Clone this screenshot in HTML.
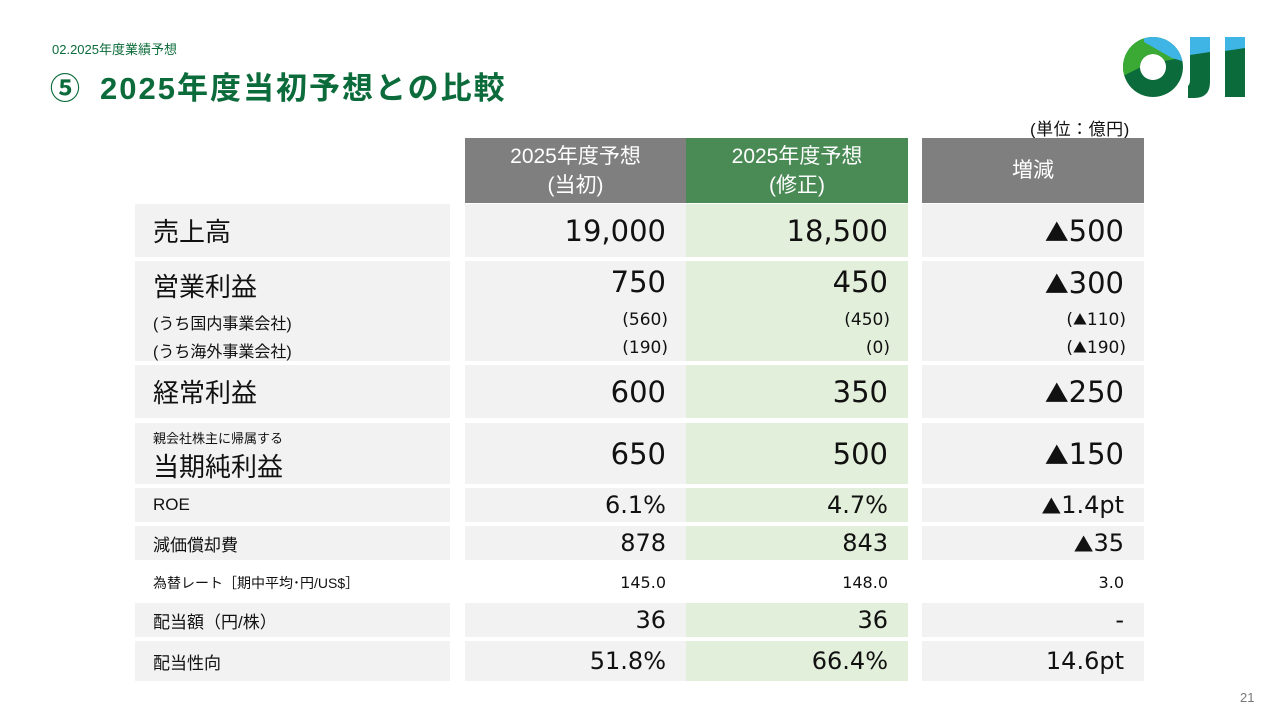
<!DOCTYPE html>
<html><head><meta charset="utf-8"><style>
body{margin:0;width:1280px;height:720px;background:#fff;position:relative;overflow:hidden;font-family:"Liberation Sans","Noto Sans CJK JP",sans-serif;color:#111}
.a{position:absolute;box-sizing:border-box}
.bg{background:#f2f2f2}.gr{background:#e2efda}
.n{display:flex;align-items:center;justify-content:flex-end;padding-right:20px;font-family:"DejaVu Sans","Noto Sans CJK JP",sans-serif}
.l{display:flex;align-items:center;padding-left:18px}
.h{display:flex;align-items:center;justify-content:center;text-align:center;color:#fff;font-size:21px;line-height:29px}
.big{font-size:29px}.mid{font-size:24px}.sm{font-size:17px}
.t{font-family:"Noto Sans CJK JP",sans-serif;font-size:0.82em}
</style></head><body>
<div class="a" style="left:52px;top:39px;font-size:13px;color:#0b6b3a">02.2025年度業績予想</div>
<div class="a" style="left:50px;top:64px;font-size:30px;font-weight:bold;color:#0b6b3a">⑤</div>
<div class="a" style="left:100px;top:63px;font-size:31px;font-weight:bold;color:#0b6b3a;letter-spacing:2px">2025年度当初予想との比較</div>
<svg class="a" style="left:1122px;top:34px" width="130" height="68" viewBox="0 0 130 68">
<defs><clipPath id="ring"><path d="M31 3a30 30 0 1 0 0.01 0zM31 20a13 13 0 1 1 -0.01 0z" fill-rule="evenodd"/></clipPath></defs>
<g clip-path="url(#ring)"><rect x="-5" y="-5" width="75" height="80" fill="#0b6b3a"/><path d="M-5 45 L25 30 L70 22 L70 -5 L-5 -5z" fill="#3aaa35"/><path d="M22 -5 L70 -5 L70 30 L50 24 L22 8z" fill="#3fb5e6"/></g>
<rect x="68" y="3" width="20" height="20" fill="#3fb5e6"/><path d="M68 21 L88 18 L88 48 Q88 64 72 64 L66 64 L66 52 Q68 50 68 46z" fill="#0b6b3a"/>
<rect x="103" y="3" width="20" height="14" fill="#3fb5e6"/><path d="M103 17 L123 14 L123 63 L103 63z" fill="#0b6b3a"/>
</svg>
<div class="a" style="left:1030px;top:115px;font-size:17px;letter-spacing:0.5px">(単位：億円)</div>

<div class="a h" style="left:465px;top:138px;width:221px;height:65px;background:#7f7f7f">2025年度予想<br>(当初)</div>
<div class="a h" style="left:686px;top:138px;width:222px;height:65px;background:#4a8a55">2025年度予想<br>(修正)</div>
<div class="a h" style="left:922px;top:138px;width:222px;height:65px;background:#7f7f7f">増減</div>

<div class="a bg l big" style="left:135px;top:204px;width:315px;height:53px;font-size:26px">売上高</div>
<div class="a bg n big" style="left:465px;top:204px;width:221px;height:53px">19,000</div>
<div class="a gr n big" style="left:686px;top:204px;width:222px;height:53px">18,500</div>
<div class="a bg n big" style="left:922px;top:204px;width:222px;height:53px"><span class="t">▲</span>500</div>

<div class="a bg" style="left:135px;top:261px;width:315px;height:100px">
<div class="a" style="left:18px;top:6px;font-size:26px">営業利益</div>
<div class="a" style="left:18px;top:49px;font-size:16px">(うち国内事業会社)</div>
<div class="a" style="left:18px;top:77px;font-size:16px">(うち海外事業会社)</div></div>
<div class="a bg" style="left:465px;top:261px;width:221px;height:100px;font-family:'DejaVu Sans',sans-serif">
<div class="a" style="right:20px;top:4px;font-size:29px">750</div>
<div class="a" style="right:18px;top:49px;font-size:17px">(560)</div>
<div class="a" style="right:18px;top:77px;font-size:17px">(190)</div></div>
<div class="a gr" style="left:686px;top:261px;width:222px;height:100px;font-family:'DejaVu Sans',sans-serif">
<div class="a" style="right:20px;top:4px;font-size:29px">450</div>
<div class="a" style="right:18px;top:49px;font-size:17px">(450)</div>
<div class="a" style="right:18px;top:77px;font-size:17px">(0)</div></div>
<div class="a bg" style="left:922px;top:261px;width:222px;height:100px;font-family:'DejaVu Sans',sans-serif">
<div class="a" style="right:20px;top:4px;font-size:29px"><span class="t">▲</span>300</div>
<div class="a" style="right:18px;top:49px;font-size:17px">(<span class="t">▲</span>110)</div>
<div class="a" style="right:18px;top:77px;font-size:17px">(<span class="t">▲</span>190)</div></div>

<div class="a bg l" style="left:135px;top:365px;width:315px;height:53px;font-size:26px">経常利益</div>
<div class="a bg n big" style="left:465px;top:365px;width:221px;height:53px">600</div>
<div class="a gr n big" style="left:686px;top:365px;width:222px;height:53px">350</div>
<div class="a bg n big" style="left:922px;top:365px;width:222px;height:53px"><span class="t">▲</span>250</div>

<div class="a bg" style="left:135px;top:423px;width:315px;height:61px">
<div class="a" style="left:18px;top:5px;font-size:13px">親会社株主に帰属する</div>
<div class="a" style="left:18px;top:24px;font-size:26px">当期純利益</div></div>
<div class="a bg n big" style="left:465px;top:423px;width:221px;height:61px">650</div>
<div class="a gr n big" style="left:686px;top:423px;width:222px;height:61px">500</div>
<div class="a bg n big" style="left:922px;top:423px;width:222px;height:61px"><span class="t">▲</span>150</div>

<div class="a bg l" style="left:135px;top:488px;width:315px;height:34px;font-size:17px">ROE</div>
<div class="a bg n mid" style="left:465px;top:488px;width:221px;height:34px">6.1%</div>
<div class="a gr n mid" style="left:686px;top:488px;width:222px;height:34px">4.7%</div>
<div class="a bg n mid" style="left:922px;top:488px;width:222px;height:34px"><span class="t">▲</span>1.4pt</div>

<div class="a bg l" style="left:135px;top:526px;width:315px;height:34px;font-size:17px">減価償却費</div>
<div class="a bg n mid" style="left:465px;top:526px;width:221px;height:34px">878</div>
<div class="a gr n mid" style="left:686px;top:526px;width:222px;height:34px">843</div>
<div class="a bg n mid" style="left:922px;top:526px;width:222px;height:34px"><span class="t">▲</span>35</div>

<div class="a l" style="left:135px;top:565px;width:330px;height:35px;font-size:14px">為替レート［期中平均･円/US$］</div>
<div class="a n sm" style="left:465px;top:565px;width:221px;height:35px;font-size:16px">145.0</div>
<div class="a n sm" style="left:686px;top:565px;width:222px;height:35px;font-size:16px">148.0</div>
<div class="a n sm" style="left:922px;top:565px;width:222px;height:35px;font-size:16px">3.0</div>

<div class="a bg l" style="left:135px;top:603px;width:315px;height:34px;font-size:17px">配当額（円/株）</div>
<div class="a bg n mid" style="left:465px;top:603px;width:221px;height:34px">36</div>
<div class="a gr n mid" style="left:686px;top:603px;width:222px;height:34px">36</div>
<div class="a bg n mid" style="left:922px;top:603px;width:222px;height:34px">-</div>

<div class="a bg l" style="left:135px;top:641px;width:315px;height:40px;font-size:17px">配当性向</div>
<div class="a bg n mid" style="left:465px;top:641px;width:221px;height:40px">51.8%</div>
<div class="a gr n mid" style="left:686px;top:641px;width:222px;height:40px">66.4%</div>
<div class="a bg n mid" style="left:922px;top:641px;width:222px;height:40px">14.6pt</div>

<div class="a" style="left:1240px;top:690px;font-size:13px;color:#777">21</div>
</body></html>
